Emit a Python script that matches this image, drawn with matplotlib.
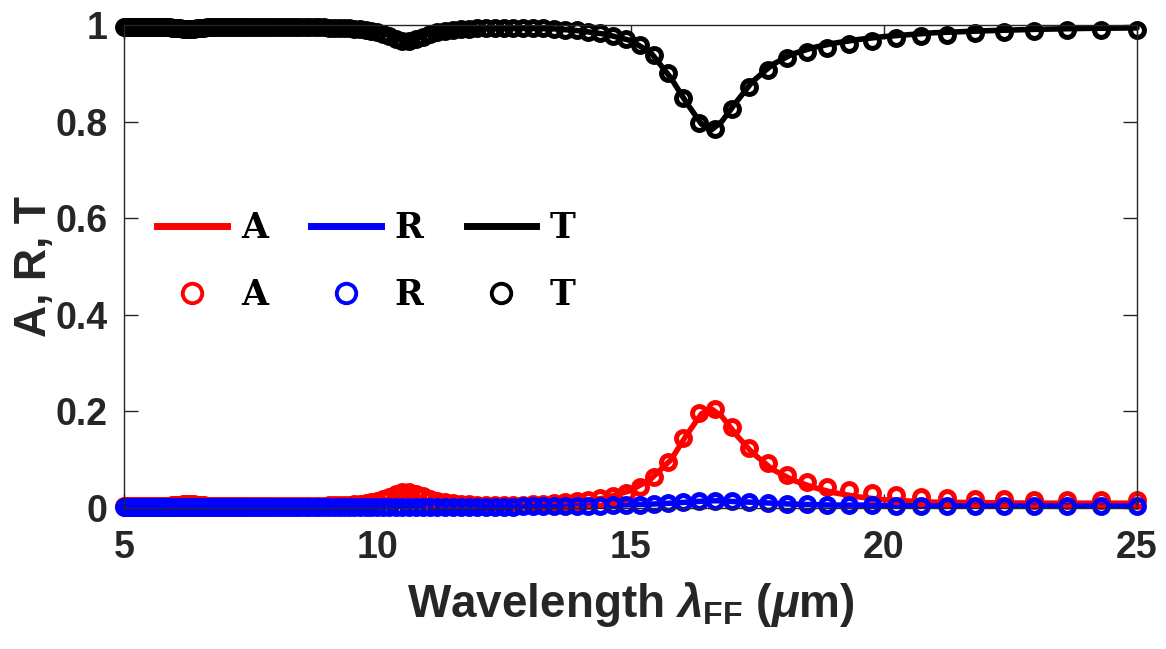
import numpy as np
import matplotlib
matplotlib.use("Agg")
import matplotlib.pyplot as plt
from matplotlib.lines import Line2D
from matplotlib.font_manager import FontProperties

plt.rcParams['font.family'] = ['Liberation Sans', 'DejaVu Sans']
plt.rcParams['mathtext.fontset'] = 'custom'
plt.rcParams['mathtext.rm'] = 'Liberation Sans:bold'
plt.rcParams['mathtext.it'] = 'Liberation Sans:bold:italic'
plt.rcParams['mathtext.bf'] = 'Liberation Sans:bold'

# ---- marker data: sampled uniformly in frequency (1/um), from 5 um to 25 um ----
marker_freq = np.linspace(0.2, 0.04, 137)
marker_wl = 1.0 / marker_freq

T_markers = [
    0.996, 0.996, 0.996, 0.996, 0.996, 0.996, 0.996, 0.996, 0.996, 0.996,
    0.996, 0.996, 0.996, 0.996, 0.996, 0.996, 0.996, 0.996, 0.996, 0.996,
    0.996, 0.996, 0.995, 0.995, 0.995, 0.995, 0.995, 0.994, 0.994, 0.994,
    0.993, 0.993, 0.992, 0.992, 0.992, 0.992, 0.992, 0.992, 0.993, 0.993,
    0.994, 0.994, 0.995, 0.995, 0.995, 0.995, 0.995, 0.995, 0.995, 0.995,
    0.995, 0.995, 0.995, 0.995, 0.995, 0.995, 0.995, 0.995, 0.995, 0.995,
    0.995, 0.995, 0.995, 0.995, 0.995, 0.995, 0.995, 0.995, 0.995, 0.995,
    0.995, 0.995, 0.995, 0.995, 0.995, 0.995, 0.994, 0.994, 0.994, 0.993,
    0.993, 0.992, 0.991, 0.990, 0.988, 0.986, 0.982, 0.977, 0.971, 0.967,
    0.966, 0.970, 0.976, 0.981, 0.985, 0.988, 0.990, 0.991, 0.992, 0.993,
    0.994, 0.994, 0.994, 0.994, 0.994, 0.993, 0.993, 0.992, 0.990, 0.989,
    0.986, 0.983, 0.977, 0.971, 0.959, 0.938, 0.901, 0.849, 0.797, 0.785,
    0.827, 0.872, 0.907, 0.931, 0.945, 0.953, 0.960, 0.966, 0.974, 0.977,
    0.980, 0.983, 0.985, 0.987, 0.989, 0.990, 0.990,
]
A_markers = [
    0.004, 0.004, 0.004, 0.004, 0.004, 0.004, 0.004, 0.004, 0.004, 0.004,
    0.004, 0.004, 0.004, 0.004, 0.004, 0.004, 0.004, 0.004, 0.004, 0.004,
    0.004, 0.004, 0.005, 0.005, 0.005, 0.005, 0.005, 0.006, 0.006, 0.006,
    0.007, 0.007, 0.008, 0.008, 0.008, 0.008, 0.008, 0.008, 0.007, 0.007,
    0.006, 0.006, 0.005, 0.005, 0.005, 0.005, 0.005, 0.005, 0.005, 0.005,
    0.005, 0.005, 0.005, 0.005, 0.005, 0.005, 0.005, 0.005, 0.005, 0.005,
    0.005, 0.005, 0.005, 0.005, 0.005, 0.005, 0.005, 0.005, 0.005, 0.005,
    0.005, 0.005, 0.005, 0.005, 0.005, 0.005, 0.006, 0.006, 0.006, 0.007,
    0.007, 0.008, 0.009, 0.010, 0.012, 0.014, 0.018, 0.023, 0.029, 0.033,
    0.034, 0.030, 0.024, 0.019, 0.015, 0.012, 0.010, 0.009, 0.008, 0.007,
    0.006, 0.006, 0.006, 0.007, 0.007, 0.008, 0.009, 0.010, 0.012, 0.014,
    0.016, 0.020, 0.025, 0.032, 0.044, 0.064, 0.095, 0.145, 0.197, 0.205,
    0.168, 0.124, 0.093, 0.068, 0.054, 0.044, 0.037, 0.031, 0.027, 0.023,
    0.021, 0.019, 0.018, 0.017, 0.016, 0.016, 0.016,
]
R_markers = [
    0.003, 0.003, 0.003, 0.003, 0.003, 0.003, 0.003, 0.003, 0.003, 0.003,
    0.003, 0.003, 0.003, 0.003, 0.003, 0.003, 0.003, 0.003, 0.003, 0.003,
    0.003, 0.003, 0.003, 0.003, 0.003, 0.003, 0.003, 0.003, 0.003, 0.003,
    0.003, 0.003, 0.003, 0.003, 0.003, 0.003, 0.003, 0.003, 0.003, 0.003,
    0.003, 0.003, 0.003, 0.003, 0.003, 0.003, 0.003, 0.003, 0.003, 0.003,
    0.003, 0.003, 0.003, 0.003, 0.003, 0.003, 0.003, 0.003, 0.003, 0.003,
    0.003, 0.003, 0.003, 0.003, 0.003, 0.003, 0.003, 0.003, 0.003, 0.003,
    0.003, 0.003, 0.003, 0.003, 0.003, 0.003, 0.003, 0.003, 0.003, 0.003,
    0.003, 0.003, 0.003, 0.003, 0.003, 0.003, 0.003, 0.003, 0.003, 0.003,
    0.003, 0.003, 0.003, 0.003, 0.003, 0.003, 0.003, 0.003, 0.003, 0.003,
    0.003, 0.003, 0.003, 0.003, 0.004, 0.004, 0.004, 0.004, 0.004, 0.005,
    0.005, 0.005, 0.006, 0.006, 0.007, 0.008, 0.010, 0.012, 0.014, 0.015,
    0.014, 0.012, 0.010, 0.009, 0.008, 0.007, 0.006, 0.006, 0.005, 0.005,
    0.005, 0.004, 0.004, 0.004, 0.004, 0.004, 0.004,
]

# ---- solid-line data ----
line_wl = [5.0, 5.5, 6.0, 6.4, 6.8, 7.5, 8.5, 9.5,
           10.0, 10.2, 10.4, 10.55, 10.7, 10.85, 11.0, 11.3, 11.8,
           12.5, 13.5, 14.0, 14.5, 15.0, 15.4, 15.8, 16.1, 16.4, 16.6,
           16.8, 17.1, 17.4, 17.8, 18.2, 18.6, 19.0, 19.5, 20.0,
           21.0, 22.0, 23.0, 24.0, 25.0]
line_T = [0.996, 0.996, 0.994, 0.992, 0.994, 0.995, 0.995, 0.993,
          0.986, 0.980, 0.970, 0.966, 0.968, 0.975, 0.981, 0.987, 0.991,
          0.994, 0.992, 0.988, 0.981, 0.968, 0.943, 0.890, 0.840, 0.795, 0.783,
          0.800, 0.842, 0.882, 0.918, 0.940, 0.953, 0.962, 0.970, 0.976,
          0.984, 0.988, 0.991, 0.993, 0.994]
line_A = [0.004, 0.004, 0.006, 0.008, 0.005, 0.004, 0.004, 0.006,
          0.012, 0.018, 0.028, 0.034, 0.031, 0.022, 0.016, 0.011, 0.008,
          0.007, 0.009, 0.013, 0.021, 0.036, 0.060, 0.100, 0.150, 0.195, 0.205,
          0.190, 0.150, 0.115, 0.080, 0.058, 0.043, 0.032, 0.023, 0.017,
          0.012, 0.011, 0.010, 0.010, 0.010]
line_R = [0.003, 0.003, 0.003, 0.003, 0.003, 0.003, 0.003, 0.003,
          0.003, 0.003, 0.003, 0.003, 0.003, 0.003, 0.003, 0.003, 0.003,
          0.003, 0.003, 0.004, 0.005, 0.007, 0.008, 0.010, 0.012, 0.014, 0.015,
          0.015, 0.013, 0.012, 0.010, 0.008, 0.007, 0.006, 0.006, 0.005,
          0.004, 0.004, 0.004, 0.004, 0.004]

x_ticks = [5, 10, 15, 20, 25]
y_ticks = [0, 0.2, 0.4, 0.6, 0.8, 1]
y_ticklabels = ['0', '0.2', '0.4', '0.6', '0.8', '1']
legend_labels = ['A', 'R', 'T']

RED, BLUE, BLACK = '#ff0000', '#0000ff', '#000000'
AXC = '#262626'

fig = plt.figure(figsize=(11.66, 6.49), dpi=100)
ax = fig.add_axes([124 / 1166, 1 - 508 / 649, (1137 - 124) / 1166, (508 - 25) / 649])

lw = 4.0
ms = 10
mew = 3.6
ax.plot(line_wl, line_A, color=RED, lw=lw, clip_on=False, solid_capstyle='round')
ax.plot(line_wl, line_R, color=BLUE, lw=lw, clip_on=False, solid_capstyle='round')
ax.plot(line_wl, line_T, color=BLACK, lw=lw, clip_on=False, solid_capstyle='round')
ax.plot(marker_wl, A_markers, ls='none', marker='o', ms=ms, mew=mew, mfc='none', mec=RED, clip_on=False)
ax.plot(marker_wl, R_markers, ls='none', marker='o', ms=ms, mew=mew, mfc='none', mec=BLUE, clip_on=False)
ax.plot(marker_wl, T_markers, ls='none', marker='o', ms=ms, mew=mew, mfc='none', mec=BLACK, clip_on=False)

ax.set_xlim(5, 25)
ax.set_ylim(0, 1)
ax.set_xticks(x_ticks)
ax.set_yticks(y_ticks)
ax.set_yticklabels(y_ticklabels)
ax.tick_params(direction='in', length=10, width=1, colors=AXC, top=True, right=True,
               labelsize=27)
ax.tick_params(axis='x', pad=16)
ax.tick_params(axis='y', pad=12)
for lab in ax.get_xticklabels() + ax.get_yticklabels():
    lab.set_fontweight('bold')
for s in ax.spines.values():
    s.set_color(AXC)
    s.set_linewidth(1.0)

ax.set_xlabel(r'Wavelength $\lambda_{\mathbf{FF}}$ ($\mu$m)', fontsize=33, fontweight='bold',
              color=AXC, labelpad=10)
ax.set_ylabel('A, R, T', fontsize=32, fontweight='bold', color=AXC, labelpad=0)

cols = [RED, BLUE, BLACK]
handles, labels = [], []
for c, lbl in zip(cols, legend_labels):
    handles.append(Line2D([], [], color=c, lw=5))
    labels.append(lbl)
    handles.append(Line2D([], [], ls='none', marker='o', ms=14, mew=2.8, mfc='none', mec=c))
    labels.append(lbl)
leg = ax.legend(handles, labels, ncol=3, loc='upper left', bbox_to_anchor=(0.033, 0.615),
                frameon=False, borderpad=0, borderaxespad=0,
                prop=FontProperties(family='DejaVu Serif', weight='bold', size=25),
                handlelength=2.0, handletextpad=0.4, columnspacing=1.25, labelspacing=0.95)

fig.savefig('out.png', dpi=100)
